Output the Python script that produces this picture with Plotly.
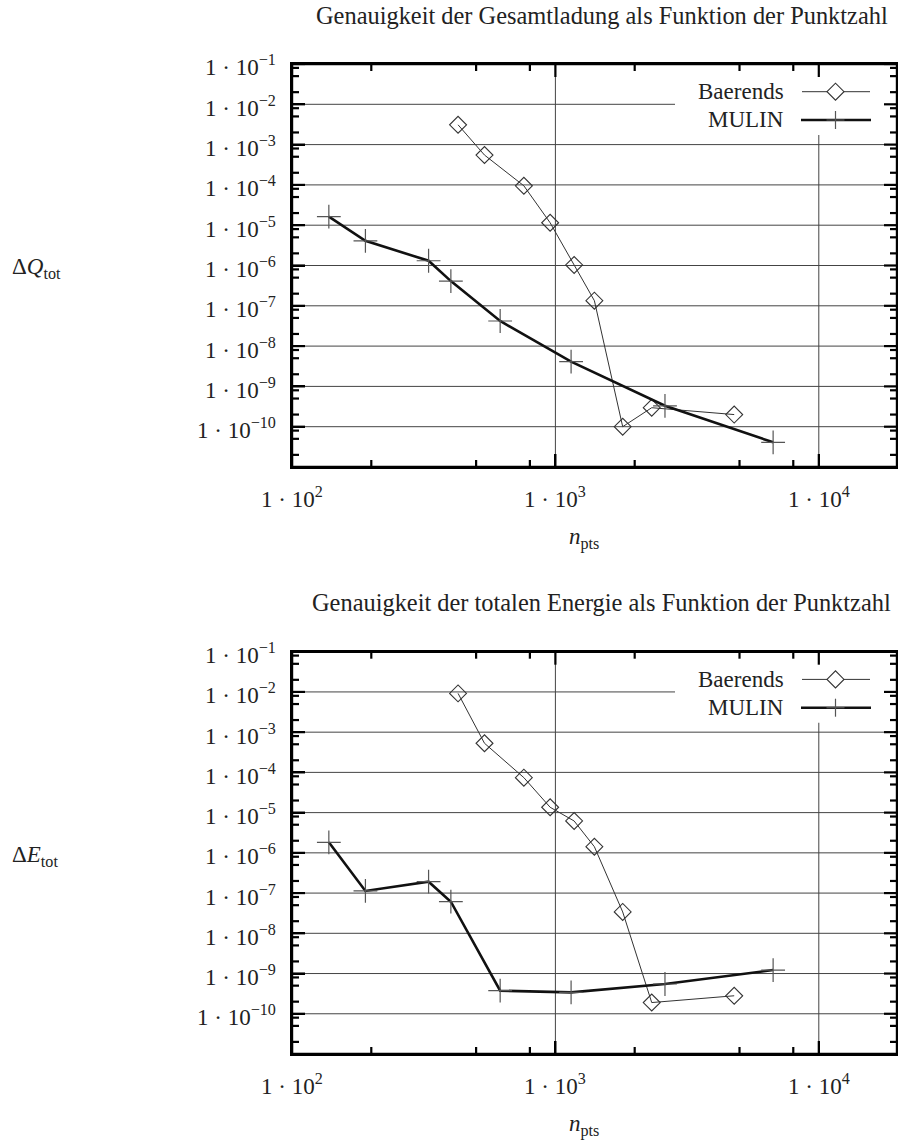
import math
import plotly.graph_objects as go

# ---------------- data ----------------
baerends_n = [427, 538, 759, 955, 1178, 1406, 1801, 2321, 4773]
baerends_dq = [3.1e-3, 5.5e-4, 9.5e-5, 1.15e-5, 1.03e-6, 1.34e-7, 1.0e-10, 2.96e-10, 2.0e-10]
baerends_de = [9.2e-3, 5.3e-4, 7.4e-5, 1.36e-5, 6.2e-6, 1.42e-6, 3.4e-8, 1.9e-10, 2.8e-10]

mulin_n = [138, 190, 330, 401, 617, 1147, 2606, 6708]
mulin_dq = [1.63e-5, 4.1e-6, 1.31e-6, 4.1e-7, 4.2e-8, 4.1e-9, 3.3e-10, 4.1e-11]
mulin_de = [1.83e-6, 1.13e-7, 1.92e-7, 6.1e-8, 3.74e-10, 3.41e-10, 5.5e-10, 1.22e-9]

x_tickvals = [100, 1000, 10000]
x_ticktext = ["1 · 10<sup>2</sup>", "1 · 10<sup>3</sup>", "1 · 10<sup>4</sup>"]
y_exponents = list(range(-1, -11, -1))
y_tickvals = [10.0 ** e for e in y_exponents]
y_ticktext = ["1 · 10<sup>\u2212%d</sup>" % (-e) for e in y_exponents]

titles = ["Genauigkeit der Gesamtladung als Funktion der Punktzahl",
          "Genauigkeit der totalen Energie als Funktion der Punktzahl"]
ylabels = ["\u0394<i>Q</i><sub>tot</sub>", "\u0394<i>E</i><sub>tot</sub>"]
xlabel = "<i>n</i><sub>pts</sub>"
legend_names = ["Baerends", "MULIN"]

# ---------------- layout geometry (pixels) ----------------
W, H = 898, 1140
FONT = "Liberation Serif, Times New Roman, serif"
px_left, px_right = 292.0, 897.0
decade_x = 263.4
panels = [dict(top=64.0, bottom=467.0), dict(top=651.7, bottom=1054.0)]

x_min_log = 2.0
x_max_log = 2.0 + (px_right - px_left) / decade_x
y_min_log, y_max_log = -11, -1

minor_x = [m * 10 ** k for k in (2, 3) for m in (2, 5, 8)]
minor_y = [m * 10.0 ** k for k in range(-11, -1) for m in (2, 5, 8)]
grid_x = [1000, 10000]
grid_y = [10.0 ** e for e in range(-2, -11, -1)]

MAJ, MIN = 13.0, 7.0
TXT = "#222"

fig = go.Figure()

axis_common = dict(
    showline=True, linewidth=2.4, linecolor="black", mirror=True,
    ticks="inside", ticklen=MAJ, tickwidth=2, tickcolor="black",
    showgrid=False, zeroline=False, showticklabels=False, automargin=False,
)


def fx(v):
    return (math.log10(v) - x_min_log) / (x_max_log - x_min_log)


def fy(v):
    return (math.log10(v) - y_min_log) / (y_max_log - y_min_log)


for i, p in enumerate(panels):
    xa = "x" if i == 0 else "x%d" % (i + 1)
    ya = "y" if i == 0 else "y%d" % (i + 1)
    xr = xa + " domain"
    yr = ya + " domain"
    pw = px_right - px_left
    ph = p["bottom"] - p["top"]
    ydom = [1 - p["bottom"] / H, 1 - p["top"] / H]
    xdom = [px_left / W, px_right / W]
    yvals = [baerends_dq, baerends_de][i]
    mvals = [mulin_dq, mulin_de][i]

    def dx(px):
        return (px - px_left) / pw

    def dy(py):
        return (p["bottom"] - py) / ph

    fig.add_trace(go.Scatter(
        x=baerends_n, y=yvals, mode="lines+markers", xaxis=xa, yaxis=ya,
        line=dict(color="#333", width=1),
        marker=dict(symbol="diamond-open", size=13, color="#333", line=dict(width=1.1)),
        showlegend=False))
    fig.add_trace(go.Scatter(
        x=mulin_n, y=mvals, mode="lines+markers", xaxis=xa, yaxis=ya,
        line=dict(color="#111", width=2.6),
        marker=dict(symbol="cross-thin-open", size=17, color="#555", line=dict(width=1.2, color="#555")),
        showlegend=False))

    lay_x = "xaxis" if i == 0 else "xaxis%d" % (i + 1)
    lay_y = "yaxis" if i == 0 else "yaxis%d" % (i + 1)
    fig.layout[lay_x] = dict(
        axis_common, type="log", domain=xdom, range=[x_min_log, x_max_log],
        anchor=ya, tickmode="array", tickvals=x_tickvals)
    fig.layout[lay_y] = dict(
        axis_common, type="log", domain=ydom, range=[y_min_log, y_max_log],
        anchor=xa, tickmode="array", tickvals=y_tickvals)

    # tick labels placed through the axis scales
    for v, t in zip(x_tickvals, x_ticktext):
        fig.add_annotation(x=math.log10(v), xref=xa, y=1 - (p["bottom"] + 30) / H, yref="paper",
                           text=t, showarrow=False, xanchor="center", yanchor="middle",
                           font=dict(family=FONT, size=23, color=TXT))
    for v, t in zip(y_tickvals, y_ticktext):
        fig.add_annotation(y=math.log10(v), yref=ya, x=278 / W, xref="paper",
                           text=t, showarrow=False, xanchor="right", yanchor="middle",
                           yshift=-2, font=dict(family=FONT, size=23, color=TXT))

    # grid lines (below traces)
    gpath = ""
    for v in grid_y:
        gpath += "M 0,%f L 1,%f " % (fy(v), fy(v))
    for v in grid_x:
        gpath += "M %f,0 L %f,1 " % (fx(v), fx(v))
    fig.add_shape(type="path", xref=xr, yref=yr, path=gpath.strip(),
                  line=dict(color="#444", width=1), layer="below")
    # white legend box covering grid
    fig.add_shape(type="rect", xref=xr, yref=yr,
                  x0=dx(675), x1=1.0, y0=dy(p["top"] + 71), y1=1.0,
                  fillcolor="white", line=dict(width=0), layer="below")

    # frame and tick marks as individual line shapes
    tick_line = dict(color="black", width=2.2)
    hx_maj, hx_min = MAJ / ph, MIN / ph
    wy_maj, wy_min = MAJ / pw, MIN / pw
    for v in x_tickvals:
        for y0, y1 in ((0, hx_maj), (1, 1 - hx_maj)):
            fig.add_shape(type="line", xref=xr, yref=yr, x0=fx(v), x1=fx(v),
                          y0=y0, y1=y1, line=tick_line)
    for v in minor_x:
        for y0, y1 in ((0, hx_min), (1, 1 - hx_min)):
            fig.add_shape(type="line", xref=xr, yref=yr, x0=fx(v), x1=fx(v),
                          y0=y0, y1=y1, line=tick_line)
    for v in y_tickvals:
        for x0, x1 in ((0, wy_maj), (1, 1 - wy_maj)):
            fig.add_shape(type="line", xref=xr, yref=yr, x0=x0, x1=x1,
                          y0=fy(v), y1=fy(v), line=tick_line)
    for v in minor_y:
        for x0, x1 in ((0, wy_min), (1, 1 - wy_min)):
            fig.add_shape(type="line", xref=xr, yref=yr, x0=x0, x1=x1,
                          y0=fy(v), y1=fy(v), line=tick_line)
    fig.add_shape(type="rect", xref=xr, yref=yr, x0=0, x1=1, y0=0, y1=1,
                  line=dict(color="black", width=2.4), fillcolor="rgba(0,0,0,0)")

    ly1 = p["top"] + 27.7
    ly2 = p["top"] + 56.0
    cx = 835.5
    # Baerends legend sample: thin line + open diamond
    fig.add_shape(type="line", xref=xr, yref=yr, x0=dx(802), x1=dx(cx - 8.5),
                  y0=dy(ly1), y1=dy(ly1), line=dict(color="#333", width=1))
    fig.add_shape(type="line", xref=xr, yref=yr, x0=dx(cx + 8.5), x1=dx(870),
                  y0=dy(ly1), y1=dy(ly1), line=dict(color="#333", width=1))
    r = 8.5
    path = "M %f,%f L %f,%f L %f,%f L %f,%f Z" % (
        dx(cx - r), dy(ly1), dx(cx), dy(ly1 - r),
        dx(cx + r), dy(ly1), dx(cx), dy(ly1 + r))
    fig.add_shape(type="path", xref=xr, yref=yr, path=path,
                  line=dict(color="#333", width=1.1), fillcolor="rgba(0,0,0,0)")
    # MULIN legend sample: thick line + plus
    fig.add_shape(type="line", xref=xr, yref=yr, x0=dx(801), x1=dx(871),
                  y0=dy(ly2), y1=dy(ly2), line=dict(color="#111", width=2.6))
    fig.add_shape(type="line", xref=xr, yref=yr, x0=dx(cx), x1=dx(cx),
                  y0=dy(ly2 - 9), y1=dy(ly2 + 9), line=dict(color="#555", width=1.2))
    fig.add_shape(type="line", xref=xr, yref=yr, x0=dx(cx - 9), x1=dx(cx + 9),
                  y0=dy(ly2), y1=dy(ly2), line=dict(color="#555", width=1.2))
    for name, yy in zip(legend_names, [ly1, ly2]):
        fig.add_annotation(x=dx(786), y=dy(yy), xref=xr, yref=yr, text=name,
                           xanchor="right", yanchor="middle", showarrow=False,
                           font=dict(family=FONT, size=23, color=TXT))

    # title
    fig.add_annotation(x=601.5 / W, y=1 - (p["top"] - 49) / H, xref="paper", yref="paper",
                       text=titles[i], showarrow=False, xanchor="center", yanchor="middle",
                       font=dict(family=FONT, size=24.4, color=TXT))
    # y label
    fig.add_annotation(x=10 / W, y=1 - (p["top"] + 204) / H, xref="paper", yref="paper",
                       text=ylabels[i], showarrow=False, xanchor="left", yanchor="middle",
                       font=dict(family=FONT, size=23, color=TXT))
    # x label
    fig.add_annotation(x=584 / W, y=1 - (p["bottom"] + 71) / H, xref="paper", yref="paper",
                       text=xlabel, showarrow=False, xanchor="center", yanchor="middle",
                       font=dict(family=FONT, size=23, color=TXT))

fig.update_layout(
    width=W, height=H, margin=dict(l=0, r=0, t=0, b=0, autoexpand=False),
    paper_bgcolor="white", plot_bgcolor="white", showlegend=False,
    font=dict(family=FONT, size=23, color=TXT),
)

fig.write_html("out.html")
